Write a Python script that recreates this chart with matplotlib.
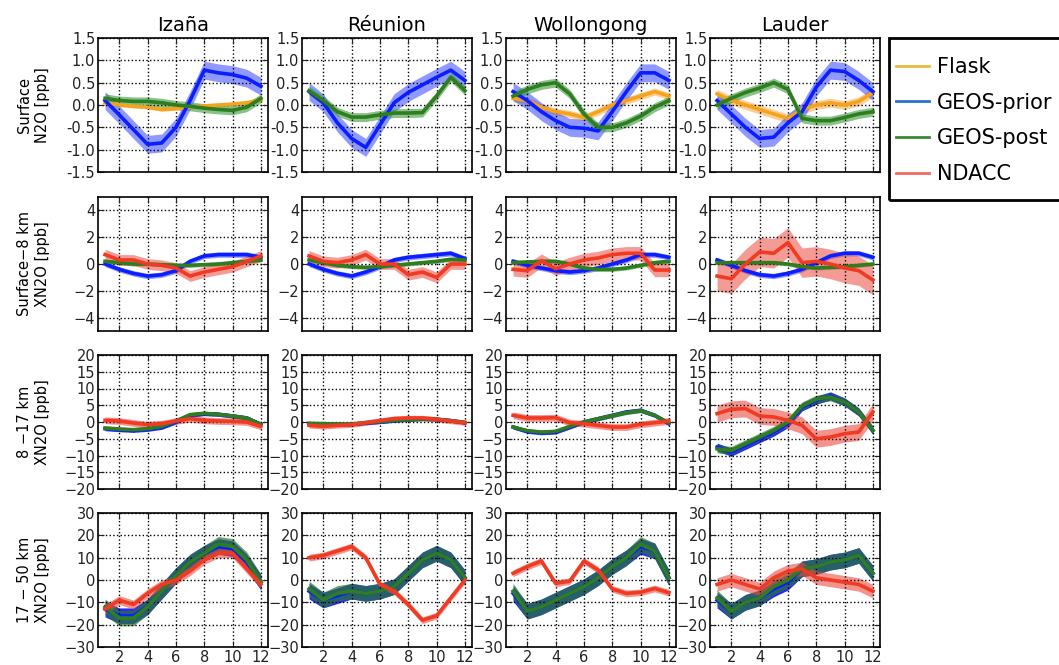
import numpy as np
import matplotlib
matplotlib.use("Agg")
import matplotlib.pyplot as plt
from matplotlib.lines import Line2D
from matplotlib.patches import Rectangle

# monthly mean anomalies at four sites
stations = ["Izaña", "Réunion", "Wollongong", "Lauder"]
months = np.arange(1, 13)

# row 1: surface N2O [ppb]
sfc_flask = [
    [0.05, 0.0, -0.03, -0.05, -0.1, -0.08, -0.05, -0.02, 0.0, 0.02, 0.05, 0.12],
    None,
    [0.15, 0.1, -0.05, -0.15, -0.2, -0.28, -0.15, 0.0, 0.1, 0.2, 0.3, 0.2],
    [0.25, 0.1, 0.0, -0.1, -0.2, -0.3, -0.1, 0.0, 0.05, 0.0, 0.08, 0.28],
]
sfc_prior = [
    [0.1, -0.22, -0.55, -0.88, -0.85, -0.5, 0.1, 0.78, 0.72, 0.68, 0.6, 0.42],
    [0.3, 0.05, -0.4, -0.75, -0.95, -0.45, 0.05, 0.28, 0.45, 0.62, 0.78, 0.55],
    [0.3, 0.1, -0.15, -0.35, -0.5, -0.52, -0.58, -0.15, 0.3, 0.72, 0.72, 0.55],
    [0.1, -0.2, -0.5, -0.75, -0.72, -0.4, -0.15, 0.4, 0.78, 0.75, 0.55, 0.3],
]
sfc_post = [
    [0.15, 0.1, 0.08, 0.08, 0.05, 0.0, -0.03, -0.07, -0.1, -0.12, -0.05, 0.15],
    [0.32, 0.1, -0.15, -0.27, -0.27, -0.22, -0.18, -0.18, -0.17, 0.2, 0.62, 0.32],
    [0.2, 0.35, 0.45, 0.5, 0.25, -0.2, -0.5, -0.5, -0.4, -0.25, -0.05, 0.1],
    [0.0, 0.15, 0.28, 0.38, 0.5, 0.35, -0.3, -0.35, -0.35, -0.28, -0.2, -0.15],
]

# row 2: surface - 8 km XN2O [ppb]
trop_ndacc = [
    [0.7, 0.3, 0.3, 0.0, -0.1, -0.3, -0.9, -0.6, -0.4, -0.2, 0.2, 0.6],
    [0.6, 0.2, 0.1, 0.3, 0.7, 0.0, 0.0, -0.8, -0.6, -1.0, 0.0, 0.0],
    [-0.4, -0.5, 0.25, -0.35, 0.0, 0.3, 0.45, 0.7, 0.8, 0.8, -0.45, -0.45],
    [-0.9, -1.1, 0.0, 0.9, 0.8, 1.6, 0.1, 0.2, 0.0, -0.3, -0.5, -1.2],
]
trop_prior = [
    [0.0, -0.4, -0.7, -0.9, -0.8, -0.5, 0.2, 0.6, 0.7, 0.7, 0.7, 0.5],
    [0.0, -0.4, -0.7, -0.9, -0.6, -0.2, 0.3, 0.5, 0.6, 0.7, 0.8, 0.4],
    [0.2, -0.1, -0.3, -0.5, -0.6, -0.5, -0.3, 0.0, 0.3, 0.7, 0.7, 0.5],
    [0.3, -0.1, -0.5, -0.8, -0.9, -0.7, -0.4, 0.1, 0.6, 0.8, 0.8, 0.5],
]
trop_post = [
    [0.2, 0.1, 0.0, 0.0, -0.05, -0.1, -0.1, -0.05, 0.0, 0.1, 0.2, 0.3],
    [0.3, 0.1, -0.1, -0.2, -0.25, -0.2, -0.1, 0.0, 0.1, 0.2, 0.35, 0.3],
    [0.1, 0.15, 0.2, 0.2, 0.0, -0.3, -0.4, -0.4, -0.3, -0.1, 0.1, 0.2],
    [0.1, 0.1, 0.1, 0.1, 0.1, 0.0, -0.2, -0.3, -0.25, -0.2, -0.1, 0.0],
]

# row 3: 8 - 17 km XN2O [ppb]
utls_ndacc = [
    [0.5, 0.3, -0.3, -0.8, -0.5, 0.3, 1.0, 0.5, 0.3, 0.2, 0.0, -1.3],
    [-1.0, -1.3, -1.0, -0.8, -0.2, 0.4, 1.0, 1.2, 1.2, 0.8, 0.3, -0.2],
    [2.0, 1.2, 1.2, 1.3, -0.2, -0.5, -1.0, -1.5, -1.5, -0.7, -0.2, 0.3],
    [2.5, 3.8, 4.0, 1.8, 1.5, 0.5, -1.0, -5.0, -4.5, -3.5, -3.0, 3.0],
]
utls_prior = [
    [-2.0, -2.3, -2.5, -2.2, -1.6, 0.0, 2.0, 2.5, 2.3, 1.8, 1.2, -0.7],
    [-0.5, -0.6, -0.7, -0.7, -0.3, 0.0, 0.4, 0.7, 0.9, 0.8, 0.4, -0.2],
    [-1.5, -2.8, -3.2, -3.0, -1.5, 0.0, 1.0, 2.0, 3.0, 3.5, 2.0, -0.5],
    [-7.5, -9.0, -7.0, -5.0, -3.0, -0.5, 4.5, 6.5, 7.8, 6.0, 3.0, -2.5],
]
utls_post = [
    [-1.8, -2.1, -2.3, -2.0, -1.3, 0.3, 2.2, 2.6, 2.3, 1.8, 1.2, -0.7],
    [-0.4, -0.5, -0.6, -0.6, -0.2, 0.1, 0.5, 0.7, 0.9, 0.8, 0.4, -0.1],
    [-1.5, -2.6, -3.0, -2.8, -1.3, 0.0, 1.0, 1.9, 2.8, 3.4, 2.0, -0.3],
    [-8.0, -8.5, -6.5, -4.5, -2.5, 0.0, 4.8, 6.8, 7.5, 6.0, 3.0, -2.5],
]

# row 4: 17 - 50 km XN2O [ppb]
strat_ndacc = [
    [-13, -9, -11, -6, -2, 0, 4, 9, 12, 12, 5, -2],
    [10, 11, 13, 15, 10, -2, -5, -11, -18, -16, -8, 0],
    [3, 6, 8.5, -1.5, -0.5, 8.5, 4.5, -4, -6, -5.5, -3.8, -5.7],
    [-2, 0, -2, -4, 1, 4, 5, 1, 0, -1, -2, -5],
]
strat_prior = [
    [-13, -16, -16, -12, -5, 2, 8, 12, 15, 14, 8, -1],
    [-5, -9, -7, -5, -6, -5, -3, 3, 9, 12, 9, 1],
    [-6, -14, -12, -9, -6, -3, 1, 6, 10, 15, 13, 1],
    [-9, -14, -10, -8, -4, -1, 5, 6, 8, 9, 11, 3],
]
strat_post = [
    [-12, -17, -17, -12, -5, 2, 8, 12, 16, 15, 9, -1],
    [-4, -9, -6, -5, -6, -5, -3, 3, 9, 12, 9, 1],
    [-5, -14, -12, -9, -6, -3, 1, 6, 10, 16, 13, 1],
    [-8, -14, -10, -8, -3, 0, 5, 6, 8, 9, 11, 3],
]

# half widths of the shaded bands, per station
sfc_err = {"flask": [0.04, 0, 0.08, 0.1], "prior": [0.2, 0.2, 0.2, 0.2], "post": [0.1, 0.1, 0.1, 0.1]}
trop_err = {"ndacc": [0.4, 0.4, 0.5, 1.1], "prior": [0.2, 0.2, 0.2, 0.2], "post": [0.15, 0.15, 0.15, 0.15]}
utls_err = {"ndacc": [1.0, 0.8, 1.0, 2.5], "prior": [0.6, 0.5, 0.6, 1.2], "post": [0.6, 0.5, 0.6, 1.2]}
strat_err = {"ndacc": [2.0, 1.5, 1.5, 3.0], "prior": [3.5, 3.5, 3.5, 3.5], "post": [3.5, 3.5, 3.5, 3.5]}

row_labels = ["Surface\nN2O [ppb]", "Surface\u22128 km\nXN2O [ppb]",
              "8 \u221217 km\nXN2O [ppb]", "17 \u2212 50 km\nXN2O [ppb]"]
row_lims = [(-1.5, 1.5), (-5, 5), (-20, 20), (-30, 30)]
row_ticks = [np.arange(-1.5, 1.51, 0.5), np.arange(-4, 4.1, 2),
             np.arange(-20, 21, 5), np.arange(-30, 31, 10)]

line_col = {"flask": "#f5a31c", "prior": "#0a1eff", "post": "#2e7d1e", "ndacc": "#f03a22"}
# upper rows: light bands; the two upper-air rows have the darker, teal-looking bands
fill_light = {"flask": ("#f7a83a", 0.55), "prior": ("#3346ff", 0.55),
              "post": ("#3a9a3a", 0.6), "ndacc": ("#ee4a40", 0.55)}
fill_dark = {"flask": ("#f7a83a", 0.55), "prior": ("#0000ff", 0.85),
             "post": ("#2a7a2a", 0.7), "ndacc": ("#ee4a40", 0.6)}

rows = [
    [("flask", sfc_flask), ("prior", sfc_prior), ("post", sfc_post)],
    [("prior", trop_prior), ("post", trop_post), ("ndacc", trop_ndacc)],
    [("prior", utls_prior), ("post", utls_post), ("ndacc", utls_ndacc)],
    [("prior", strat_prior), ("post", strat_post), ("ndacc", strat_ndacc)],
]
errs = [sfc_err, trop_err, utls_err, strat_err]

W, H = 1059, 665
fig = plt.figure(figsize=(W / 100, H / 100), dpi=100)
fig.patch.set_facecolor("white")

col_left = [98, 302, 506, 710]
row_top = [38, 197, 355, 513]
aw, ah = 170, 134

for r in range(4):
    fills = fill_light if r < 2 else fill_dark
    for c in range(4):
        ax = fig.add_axes([col_left[c] / W, 1 - (row_top[r] + ah) / H, aw / W, ah / H])
        for key, series in rows[r]:
            vals = series[c]
            if vals is None:
                continue
            vals = np.array(vals, dtype=float)
            e = errs[r][key][c]
            fc, fa = fills[key]
            ax.fill_between(months, vals - e, vals + e, color=fc, alpha=fa, lw=0)
            ax.plot(months, vals, color=line_col[key], lw=2.6)
        ax.set_xlim(0.5, 12.5)
        ax.set_ylim(*row_lims[r])
        ax.set_yticks(row_ticks[r])
        if r == 0:
            ax.set_yticklabels(["%.1f" % t for t in row_ticks[r]])
        ax.set_xticks(np.arange(2, 13, 2))
        if r < 3:
            ax.set_xticklabels([])
        ax.grid(True, color="k", ls=":", lw=1.0)
        ax.tick_params(direction="in", top=True, right=True, length=4,
                       labelsize=10.5, pad=2, colors="#222222")
        for s in ax.spines.values():
            s.set_linewidth(1.2)
        if r == 0:
            ax.set_title(stations[c], fontsize=14, pad=5)
        if c == 0:
            ax.set_ylabel(row_labels[r], fontsize=10.5, linespacing=1.3)
            ax.yaxis.set_label_coords(-0.28, 0.5)

# legend box: frame drawn separately so it runs off the right edge like the original
fig.patches.append(Rectangle((889 / W, 1 - 200 / H), 200 / W, 162 / H,
                             transform=fig.transFigure, fill=False,
                             edgecolor="black", lw=2))
handles = [Line2D([], [], color="#e8bc3c", lw=2),
           Line2D([], [], color="#2f6fd0", lw=2),
           Line2D([], [], color="#3a8a34", lw=2),
           Line2D([], [], color="#ee6a62", lw=2)]
fig.legend(handles, ["Flask", "GEOS-prior", "GEOS-post", "NDACC"],
           loc="upper left", bbox_to_anchor=(896 / W, 1 - 57 / H),
           borderaxespad=0, borderpad=0, fontsize=15, frameon=False,
           handlelength=1.6, handletextpad=0.35, labelspacing=0.75)

fig.savefig("out.png", dpi=100, facecolor="white")
